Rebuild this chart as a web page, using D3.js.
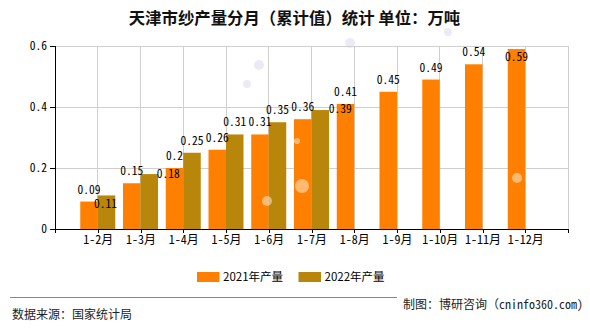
<!DOCTYPE html>
<html><head><meta charset="utf-8">
<script src="https://cdn.jsdelivr.net/npm/d3@7"></script>
<style>
body{margin:0;background:#fff;}
svg{display:block;}
</style></head>
<body>
<svg id="c" width="590" height="330"></svg>
<script>
const categories = ["1-2月","1-3月","1-4月","1-5月","1-6月","1-7月","1-8月","1-9月","1-10月","1-11月","1-12月"];
const values2021 = [0.09,0.15,0.2,0.26,0.31,0.36,0.41,0.45,0.49,0.54,0.59];
const values2022 = [0.11,0.18,0.25,0.31,0.35,0.39];
const seriesNames = ["2021年产量","2022年产量"];
const yTicks = [0,0.2,0.4,0.6];
const labels2021 = ["0.09","0.15","0.2","0.26","0.31","0.36","0.41","0.45","0.49","0.54","0.59"];
const labels2022 = ["0.11","0.18","0.25","0.31","0.35","0.39"];
// label nudges (collision avoidance, as in the original)
const nudge2021 = [[0,0],[0,0],[0,0],[0,0],[0,0],[0,0],[0,0],[0,0],[0,0],[0,0],[0,20]];
const nudge2022 = [[-1,20.5],[19,12],[0,0],[0,0],[0,0],[20,11]];

const colors = ["#FF8000","#B8860B"];
const monoFont = "'Noto Sans Mono CJK SC','DejaVu Sans Mono',monospace";
const cjkFont = "'Noto Sans CJK SC','Noto Sans',sans-serif";

const svg = d3.select("#c");
const L = 55, R = 568, T = 46, B = 229;
const x = d3.scalePoint().domain(categories).range([L, R]).padding(1);
const y = d3.scaleLinear().domain([0, 0.6]).range([B, T]);
const bw = 17.5;

// title
svg.append("text").attr("x", 294.5).attr("y", 18).attr("dy","0.35em").attr("text-anchor","middle")
  .attr("font-family", cjkFont).attr("font-size", 16.4).attr("font-weight","bold").attr("fill","#111")
  .text("天津市纱产量分月（累计值）统计 单位：万吨");

// watermark blobs
const blobs = svg.append("g");
[[259,65,5],[247,84,4],[350,43,5],[448,32,4]].forEach(d=>{
  blobs.append("circle").attr("cx",d[0]).attr("cy",d[1]).attr("r",d[2]).attr("fill","#e6e6f2").attr("opacity",0.8);
});

// gridlines
const g = svg.append("g");
g.selectAll(".hg").data(yTicks.filter(d=>d>0)).join("line")
  .attr("x1", L).attr("x2", R).attr("y1", d=>y(d)).attr("y2", d=>y(d))
  .attr("stroke","#cfcfcf").attr("stroke-width",1).attr("shape-rendering","crispEdges");
g.selectAll(".vg").data(categories).join("line")
  .attr("x1", d=>x(d)).attr("x2", d=>x(d)).attr("y1", T).attr("y2", B)
  .attr("stroke","#cfcfcf").attr("stroke-width",1).attr("shape-rendering","crispEdges");
g.append("line").attr("x1",R).attr("x2",R).attr("y1",T).attr("y2",B)
  .attr("stroke","#cfcfcf").attr("shape-rendering","crispEdges");

// bars
svg.append("g").selectAll("rect").data(values2021).join("rect")
  .attr("x",(d,i)=>x(categories[i]) - bw).attr("width", bw)
  .attr("y", d=>y(d)).attr("height", d=>B - y(d)).attr("fill", colors[0]);
svg.append("g").selectAll("rect").data(values2022).join("rect")
  .attr("x",(d,i)=>x(categories[i])).attr("width", bw)
  .attr("y", d=>y(d)).attr("height", d=>B - y(d)).attr("fill", colors[1]);

// decorative highlights on bars
[[267,201,5],[302,186,7],[297,141,3],[517,178,5]].forEach(d=>{
  svg.append("circle").attr("cx",d[0]).attr("cy",d[1]).attr("r",d[2]).attr("fill","#fff").attr("opacity",0.45);
});

// axes
const yAxis = d3.axisLeft(y).tickValues(yTicks).tickSize(5).tickFormat(d=> d===0 ? "0" : d3.format(".1f")(d));
const ya = svg.append("g").attr("transform",`translate(${L},0)`).call(yAxis);
ya.select(".domain").attr("stroke","#000").attr("shape-rendering","crispEdges");
ya.selectAll(".tick line").attr("stroke","#000").attr("shape-rendering","crispEdges");
ya.selectAll(".tick text").attr("font-family", monoFont).attr("font-size", 11.5).attr("fill","#000").attr("x",-8);

const xAxis = d3.axisBottom(x).tickSize(4).tickSizeOuter(4);
const xa = svg.append("g").attr("transform",`translate(0,${B})`).call(xAxis);
xa.select(".domain").attr("stroke","#000").attr("shape-rendering","crispEdges");
xa.selectAll(".tick line").attr("stroke","#000").attr("shape-rendering","crispEdges");
xa.selectAll(".tick text").attr("font-family", monoFont).attr("font-size", 12).attr("fill","#000").attr("dy","0.55em").attr("y",8);

// value labels
const lab = svg.append("g").attr("font-family", monoFont).attr("font-size", 11.5).attr("fill","#000").attr("text-anchor","middle");
values2021.forEach((v,i)=>{
  lab.append("text").attr("x", x(categories[i]) - bw/2 + nudge2021[i][0])
    .attr("y", y(v) - 12 + nudge2021[i][1]).attr("dy","0.35em").text(labels2021[i]);
});
values2022.forEach((v,i)=>{
  lab.append("text").attr("x", x(categories[i]) + bw/2 + nudge2022[i][0])
    .attr("y", y(v) - 12 + nudge2022[i][1]).attr("dy","0.35em").text(labels2022[i]);
});

// legend
const lg = svg.append("g").attr("font-family", cjkFont).attr("font-size", 11.5).attr("fill","#000");
[[197,0],[298.5,1]].forEach(([lx,i])=>{
  lg.append("rect").attr("x",lx).attr("y",272).attr("width",22.5).attr("height",10).attr("fill",colors[i]);
  lg.append("text").attr("x",lx+26).attr("y",277).attr("dy","0.35em").text(seriesNames[i]);
});

// footer
svg.append("line").attr("x1",10).attr("x2",397).attr("y1",297.5).attr("y2",297.5).attr("stroke","#888").attr("stroke-width",1);
svg.append("text").attr("x",12).attr("y",315).attr("dy","0.35em").attr("font-family",cjkFont).attr("font-size",12).attr("fill","#222").text("数据来源：国家统计局");
svg.append("text").attr("x",583).attr("y",305).attr("dy","0.35em").attr("text-anchor","end").attr("font-family",monoFont).attr("font-size",12).attr("fill","#222").text("制图：博研咨询（cninfo360.com)");
</script>
</body></html>
